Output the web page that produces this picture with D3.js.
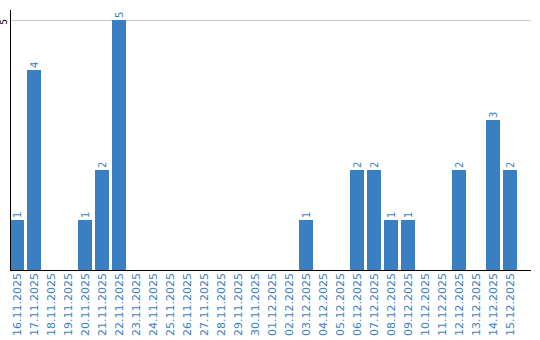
<!DOCTYPE html>
<html><head><meta charset="utf-8">
<script src="https://cdn.jsdelivr.net/npm/d3@7"></script>
<style>body{margin:0;background:#fff}svg{display:block}</style>
</head><body><svg id="c" width="540" height="340"></svg>
<script>
const dates = ["16.11.2025","17.11.2025","18.11.2025","19.11.2025","20.11.2025","21.11.2025","22.11.2025","23.11.2025","24.11.2025","25.11.2025","26.11.2025","27.11.2025","28.11.2025","29.11.2025","30.11.2025","01.12.2025","02.12.2025","03.12.2025","04.12.2025","05.12.2025","06.12.2025","07.12.2025","08.12.2025","09.12.2025","10.12.2025","11.12.2025","12.12.2025","13.12.2025","14.12.2025","15.12.2025"];
const counts = [1,4,0,0,1,2,5,0,0,0,0,0,0,0,0,0,0,1,0,0,2,2,1,1,0,0,2,0,3,2];
const yTicks = [5];

const svg = d3.select("#c");
const color = "#3b7fc3";
const x = d3.scaleBand().domain(dates).range([10, 517]).paddingInner(3/17).paddingOuter(0);
const y = d3.scaleLinear().domain([0, 5]).range([270, 20]);

// gridlines
svg.append("g").selectAll("line").data(yTicks).join("line")
  .attr("x1", 10).attr("x2", 531).attr("y1", d => y(d) + 0.5).attr("y2", d => y(d) + 0.5)
  .attr("stroke", "#c8c8c8").attr("stroke-width", 1);

// bars
const items = dates.map((d,i)=>({d, v: counts[i]})).filter(o=>o.v>0);
svg.append("g").selectAll("rect").data(items).join("rect")
  .attr("x", o => x(o.d)).attr("width", x.bandwidth())
  .attr("y", o => y(o.v)).attr("height", o => y(0) - y(o.v))
  .attr("fill", color);

// value labels
svg.append("g").selectAll("text").data(items).join("text")
  .attr("transform", o => `translate(${x(o.d) + x.bandwidth()/2 + 3.5},${y(o.v) - 2}) rotate(-90)`)
  .attr("text-anchor", "start")
  .attr("font-family", "DejaVu Sans, sans-serif").attr("font-size", 10)
  .attr("fill", color).text(o => o.v);

// y axis line
svg.append("line").attr("x1", 10.5).attr("x2", 10.5).attr("y1", 10).attr("y2", 270)
  .attr("stroke", "#000").attr("stroke-width", 1);
// x axis line
svg.append("line").attr("x1", 10).attr("x2", 531).attr("y1", 270.5).attr("y2", 270.5)
  .attr("stroke", "#000").attr("stroke-width", 1.2);

// y tick labels
svg.append("g").selectAll("text").data(yTicks).join("text")
  .attr("transform", d => `translate(7,${y(d) + 2}) rotate(-90)`)
  .attr("text-anchor", "middle")
  .attr("font-family", "DejaVu Sans, sans-serif").attr("font-size", 9)
  .attr("fill", "#000").text(d => d);

// x tick labels
svg.append("g").selectAll("text").data(dates).join("text")
  .attr("transform", d => `translate(${x(d) + x.bandwidth()/2 + 4},336) rotate(-90)`)
  .attr("text-anchor", "start")
  .attr("font-family", "DejaVu Sans, sans-serif").attr("font-size", 11)
  .attr("fill", color).text(d => d);
</script></body></html>
